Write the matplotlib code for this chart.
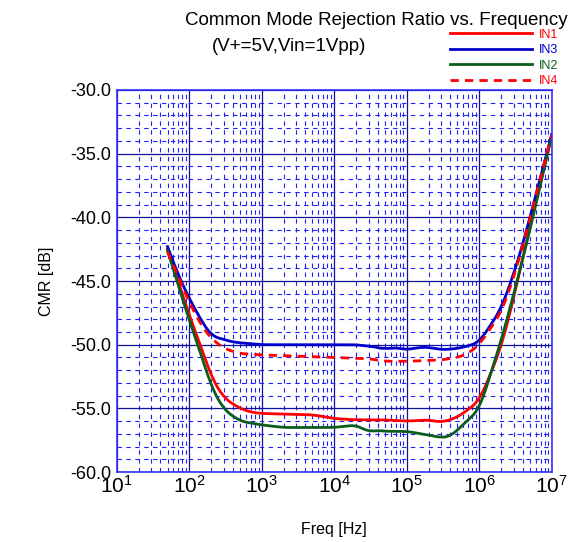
import numpy as np
import matplotlib
matplotlib.use('Agg')
import matplotlib.pyplot as plt
from matplotlib.ticker import LogLocator, NullFormatter

plt.rcParams['font.family'] = ['Liberation Sans', 'DejaVu Sans']

# frequency points (Hz) and CMR readings (dB) per input
freq_in1 = [50, 100, 150, 200, 300, 500, 700, 1e3, 5e3, 1e4, 2e4, 5e4, 1e5, 2e5, 3e5,
            5e5, 7e5, 1e6, 1.5e6, 2e6, 3e6, 4e6, 1e7]
cmr_in1 = [-42.5, -47.7, -50.4, -52.5, -54.2, -55.0, -55.3, -55.4, -55.5, -55.8, -55.9, -55.9,
           -56.0, -55.9, -56.1, -55.7, -55.1, -54.4, -52.0, -50.2, -46.3, -43.1, -33.5]

freq_in3 = [50, 70, 100, 150, 200, 400, 1e3, 1e4, 2e4, 4e4, 5e4, 6e4, 8e4, 1e5, 1.5e5,
            2e5, 3e5, 5e5, 7e5, 1e6, 2e6, 3e6, 4e6, 1e7]
cmr_in3 = [-42.3, -44.5, -46.4, -48.2, -49.3, -49.8, -50.0, -50.0, -50.0, -50.2, -50.4, -50.2,
           -50.3, -50.4, -50.2, -50.2, -50.4, -50.3, -50.1, -49.8, -47.2, -44.4, -42.1, -33.5]

freq_in2 = [50, 70, 100, 150, 200, 300, 500, 1e3, 2e3, 5e3, 1e4, 2e4, 2.5e4, 3e4, 3.5e4,
            5e4, 1e5, 2e5, 3e5, 4e5, 5e5, 7e5, 1e6, 2e6, 3e6, 4e6, 5e6, 1e7]
cmr_in2 = [-42.6, -45.3, -48.1, -51.0, -53.3, -55.1, -56.0, -56.3, -56.5, -56.5, -56.5, -56.3,
           -56.6, -56.9, -56.7, -56.8, -56.8, -57.1, -57.3, -57.2, -56.7, -55.9, -55.1, -49.7,
           -46.0, -43.2, -41.0, -33.6]

freq_in4 = [50, 100, 150, 200, 300, 500, 1e3, 1e4, 3e4, 5e4, 1e5, 3e5, 5e5, 7e5, 1e6,
            2e6, 3e6, 4e6, 1e7]
cmr_in4 = [-42.7, -46.7, -48.6, -49.5, -50.3, -50.7, -50.8, -51.0, -51.1, -51.3, -51.3, -51.2,
           -51.0, -50.7, -50.0, -47.5, -44.7, -42.2, -33.5]

yticks = [-60, -55, -50, -45, -40, -35, -30]


def smooth(f, v, win=19):
    # resample on a log grid and soften the corners between read points
    lf = np.log10(f)
    xs = np.linspace(lf[0], lf[-1], 500)
    ys = np.interp(xs, lf, v)
    pad = win // 2
    yp = np.concatenate([2 * ys[0] - ys[pad:0:-1], ys, 2 * ys[-1] - ys[-2:-pad - 2:-1]])
    ys = np.convolve(yp, np.ones(win) / win, mode='valid')
    return 10 ** xs, ys


fig = plt.figure(figsize=(5.7, 5.42), dpi=100)
ax = fig.add_axes([0.205, 0.129, 0.763, 0.705])

ax.plot(*smooth(freq_in1, cmr_in1), color='#ff0000', lw=2.0, label='IN1')
ax.plot(*smooth(freq_in3, cmr_in3), color='#0000cc', lw=2.0, label='IN3')
ax.plot(*smooth(freq_in2, cmr_in2), color='#0b5e1a', lw=2.0, label='IN2')
ax.plot(*smooth(freq_in4, cmr_in4), color='#ff0000', lw=2.0, ls=(0, (3, 2.2)), label='IN4')

ax.set_xscale('log')
ax.set_xlim(10, 1e7)
ax.set_ylim(-60, -30)
ax.xaxis.set_major_locator(LogLocator(base=10, numticks=20))
ax.xaxis.set_minor_locator(LogLocator(base=10, subs=np.arange(2, 10), numticks=100))
ax.xaxis.set_minor_formatter(NullFormatter())
ax.set_yticks(yticks)
ax.set_yticklabels(['%.1f' % v for v in yticks])
ax.set_yticks(np.arange(-60, -29, 1), minor=True)

ax.grid(which='major', color='#10109a', lw=0.9, ls='-')
ax.grid(which='minor', color='#2020ff', lw=0.8, ls=(0, (4, 4)))
ax.set_axisbelow(True)
ax.tick_params(which='both', length=0, labelsize=13, pad=4)
ax.tick_params(axis='x', labelsize=15, pad=2)
for s in ax.spines.values():
    s.set_color('#3030ff')
    s.set_linewidth(1.2)

ax.set_xlabel('Freq [Hz]', fontsize=11.5, labelpad=18)
ax.set_ylabel('CMR [dB]', fontsize=11.5, labelpad=12)

fig.text(0.66, 0.963, 'Common Mode Rejection Ratio vs. Frequency', ha='center', va='center', fontsize=13.5)
fig.text(0.507, 0.915, '(V+=5V,Vin=1Vpp)', ha='center', va='center', fontsize=13.5)

ax.legend(loc='upper left', bbox_to_anchor=(0.789, 0.947), bbox_transform=fig.transFigure,
          frameon=False, labelcolor='linecolor', fontsize=9, handlelength=6.6,
          handletextpad=0.5, labelspacing=0.28, borderaxespad=0, borderpad=0)

fig.savefig('out.png', dpi=100)
